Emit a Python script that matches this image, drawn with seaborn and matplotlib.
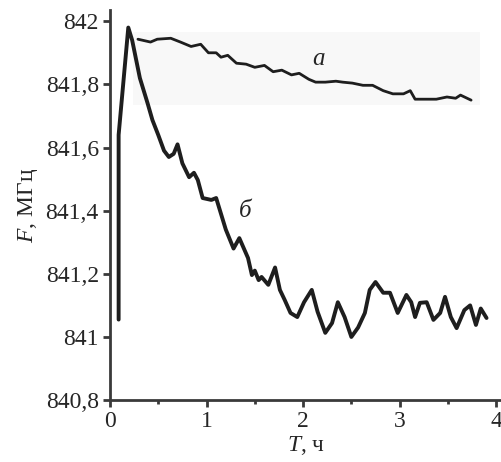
import matplotlib
matplotlib.use("Agg")
import matplotlib.pyplot as plt
import matplotlib.ticker as mticker
from matplotlib.patches import Rectangle
import seaborn as sns
import pandas as pd

# кривая а (верхняя)
t_a = [0.29, 0.42, 0.49, 0.63, 0.73, 0.84, 0.94, 1.02, 1.10, 1.15, 1.22, 1.31,
       1.41, 1.50, 1.60, 1.69, 1.78, 1.88, 1.96, 2.06, 2.13, 2.23, 2.34, 2.41,
       2.51, 2.62, 2.72, 2.83, 2.93, 3.04, 3.11, 3.16, 3.28, 3.38, 3.49, 3.58,
       3.63, 3.74]
f_a = [841.943, 841.934, 841.943, 841.946, 841.934, 841.920, 841.927, 841.900,
       841.900, 841.886, 841.892, 841.867, 841.864, 841.854, 841.860, 841.840,
       841.845, 841.830, 841.835, 841.816, 841.807, 841.807, 841.810, 841.807,
       841.804, 841.797, 841.797, 841.780, 841.770, 841.770, 841.780, 841.753,
       841.753, 841.753, 841.760, 841.756, 841.766, 841.750]

# кривая б (нижняя)
t_b = [0.09, 0.09, 0.19, 0.23, 0.31, 0.39, 0.44, 0.50, 0.56, 0.61, 0.66, 0.70,
       0.75, 0.82, 0.87, 0.91, 0.96, 1.05, 1.10, 1.15, 1.20, 1.28, 1.34, 1.43,
       1.47, 1.50, 1.54, 1.57, 1.64, 1.71, 1.76, 1.81, 1.87, 1.94, 2.01, 2.09,
       2.15, 2.23, 2.30, 2.36, 2.43, 2.50, 2.57, 2.64, 2.69, 2.75, 2.83, 2.90,
       2.98, 3.07, 3.12, 3.16, 3.21, 3.28, 3.35, 3.42, 3.47, 3.53, 3.59, 3.67,
       3.73, 3.79, 3.84, 3.90]
f_b = [841.055, 841.640, 841.980, 841.940, 841.820, 841.740, 841.687, 841.640,
       841.590, 841.570, 841.580, 841.610, 841.550, 841.506, 841.520, 841.497,
       841.440, 841.434, 841.440, 841.390, 841.340, 841.280, 841.313, 841.250,
       841.196, 841.210, 841.180, 841.190, 841.165, 841.220, 841.149, 841.117,
       841.076, 841.063, 841.110, 841.149, 841.080, 841.013, 841.044, 841.110,
       841.063, 841.000, 841.030, 841.076, 841.149, 841.174, 841.140, 841.140,
       841.076, 841.133, 841.110, 841.063, 841.108, 841.110, 841.054, 841.076,
       841.127, 841.063, 841.028, 841.085, 841.100, 841.038, 841.090, 841.060]

x_ticks = [0, 1, 2, 3, 4]
y_ticks = [840.8, 841.0, 841.2, 841.4, 841.6, 841.8, 842.0]

# серый фон за кривой а
box_t = (0.24, 3.83)
box_f = (841.734, 841.965)

sns.set_style("ticks")
plt.rcParams["font.family"] = ["Liberation Serif", "DejaVu Serif"]
plt.rcParams["mathtext.fontset"] = "custom"
plt.rcParams["mathtext.it"] = "Liberation Serif:italic"
plt.rcParams["mathtext.rm"] = "Liberation Serif"

fig = plt.figure(figsize=(5.02, 4.62), dpi=100)
ax = fig.add_axes([0.219, 0.134, 0.781, 0.844])

ax.add_patch(Rectangle((box_t[0], box_f[0]), box_t[1] - box_t[0], box_f[1] - box_f[0],
                       facecolor="#f8f8f8", edgecolor="none", zorder=0))

df_a = pd.DataFrame({"T": t_a, "F": f_a})
df_b = pd.DataFrame({"T": t_b, "F": f_b})
sns.lineplot(data=df_a, x="T", y="F", ax=ax, color="#1e1e1e", linewidth=2.0,
             estimator=None, sort=False)
sns.lineplot(data=df_b, x="T", y="F", ax=ax, color="#1e1e1e", linewidth=2.8,
             estimator=None, sort=False)

ax.text(2.16, 841.88, "а", fontsize=18, style="italic", ha="center", va="center")
ax.text(1.40, 841.40, "б", fontsize=18, style="italic", ha="center", va="center")

ax.set_xlim(0, 4.06)
ax.set_ylim(840.8, 842.035)
ax.set_xticks(x_ticks)
ax.set_yticks(y_ticks)
ax.xaxis.set_minor_locator(mticker.MultipleLocator(0.5))
ax.yaxis.set_major_formatter(mticker.FuncFormatter(lambda v, p: ("%g" % round(v, 1)).replace(".", ",")))

for s in ["top", "right"]:
    ax.spines[s].set_visible(False)
for s in ["left", "bottom"]:
    ax.spines[s].set_linewidth(2)
    ax.spines[s].set_color("#3a3a3a")

ax.tick_params(axis="both", which="major", length=5, width=2, color="#3a3a3a",
               labelsize=17, direction="out", pad=3)
ax.tick_params(axis="x", which="minor", length=3, width=2, color="#3a3a3a")

ax.set_xlabel("$\\it{T}$, ч", fontsize=17, labelpad=1)
ax.set_ylabel("$\\it{F}$, МГц", fontsize=17, labelpad=4)

fig.savefig("out.png", dpi=100)
